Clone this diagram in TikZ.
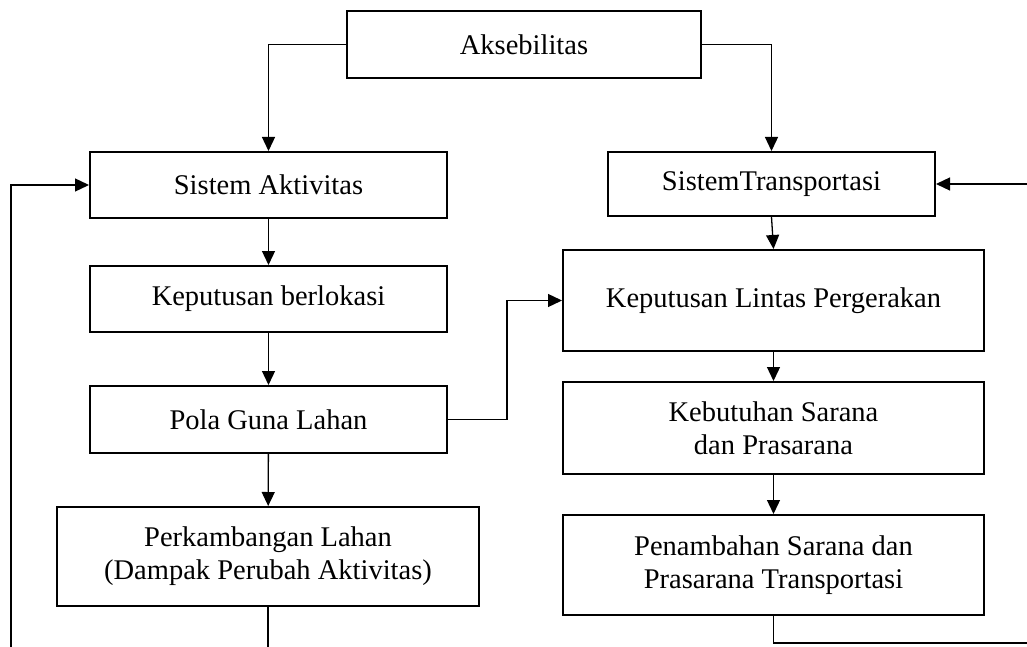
\documentclass[tikz,border=0pt]{standalone}
\usepackage{fontspec}
\setmainfont{Liberation Serif}
\usetikzlibrary{arrows.meta}
\begin{document}
\begin{tikzpicture}[x=1pt,y=-1pt,
 box/.style={draw, line width=2pt, align=center, inner sep=0pt, font=\fontsize{28.5}{33}\selectfont},
 conn/.style={line width=1.3pt, -{Triangle[length=14pt,width=13pt]}},
 plain/.style={line width=1.3pt}]
\useasboundingbox (0,0) rectangle (1027,647);
\node[box, minimum width=354pt, minimum height=67pt] (aks) at (524,44.5) {Aksebilitas};
\node[box, minimum width=357pt, minimum height=66pt] (sa) at (268.5,185) {Sistem Aktivitas};
\node[box, minimum width=357pt, minimum height=66pt] (kb) at (268.5,299) {Keputusan berlokasi};
\node[box, minimum width=357pt, minimum height=67pt] (pgl) at (268.5,419.5) {Pola Guna Lahan};
\node[box, minimum width=422pt, minimum height=99pt] (pl) at (268,556.5) {Perkambangan Lahan\\(Dampak Perubah Aktivitas)};
\node[box, minimum width=327pt, minimum height=64pt] (st) at (771.5,184) {SistemTransportasi};
\node[box, minimum width=421pt, minimum height=101pt] (klp) at (773.5,300.5) {Keputusan Lintas Pergerakan};
\node[box, minimum width=421pt, minimum height=92pt] (kspr) at (773.5,428) {Kebutuhan Sarana\\dan Prasarana};
\node[box, minimum width=421pt, minimum height=100pt] (pspt) at (773.5,565) {Penambahan Sarana dan\\Prasarana Transportasi};
\coordinate (rin) at (1027,184);
\coordinate (rout) at (1027,643);
\coordinate (lb) at (11,647);
\coordinate (pb) at (268,647);
\draw[conn] (aks.west) -| (sa.north);
\draw[conn] (aks.east) -| (st.north);
\draw[conn] (sa) -- (kb);
\draw[conn] (kb) -- (pgl);
\draw[conn] (pgl) -- (pl);
\draw[conn] (pgl.east) -- ++(59,0) |- (klp.west);
\draw[conn] (st.south) -- (klp.north);
\draw[conn] (klp) -- (kspr);
\draw[conn] (kspr) -- (pspt);
\draw[conn] (rin) -- (st.east);
\draw[plain] (pspt.south) |- (rout);
\draw[conn] (lb) |- (sa.west);
\draw[plain] (pl.south) -- (pb);
\end{tikzpicture}
\end{document}
